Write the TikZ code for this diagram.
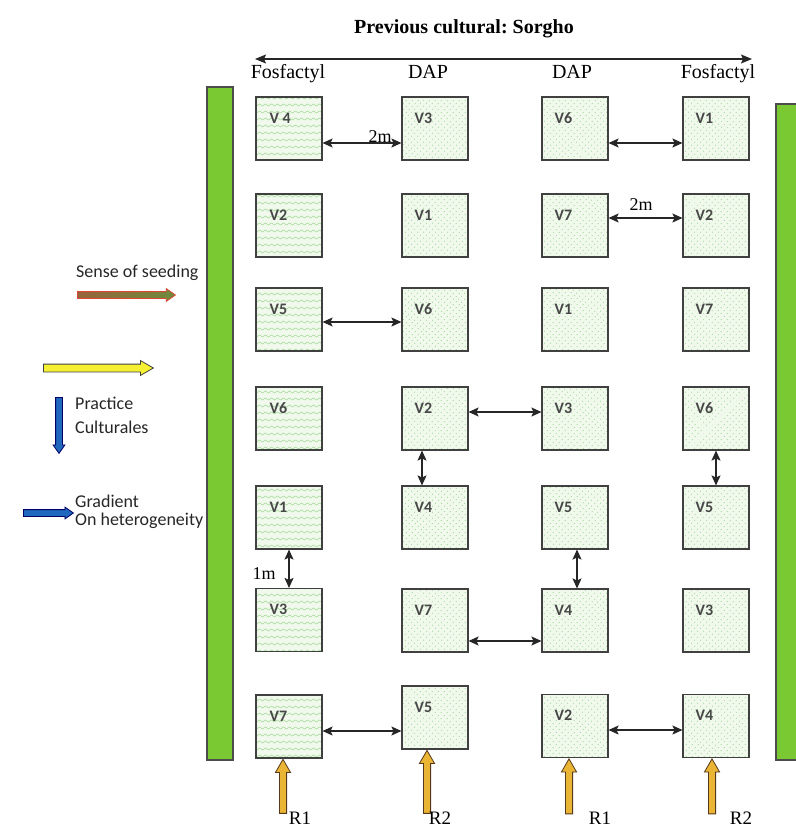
\documentclass[tikz,border=0pt]{standalone}
\usepackage{fontspec}
\setmainfont{Liberation Serif}
\newfontfamily\labfont{Carlito}
\usepackage{tikz}
\usetikzlibrary{arrows.meta, patterns, patterns.meta, shapes.arrows, positioning}
\definecolor{bargreen}{RGB}{122,200,50}
\definecolor{plotgreen}{RGB}{240,249,236}
\definecolor{dotgreen}{RGB}{150,210,140}
\definecolor{wavegreen}{RGB}{170,220,160}
\definecolor{gold}{RGB}{234,180,52}
\definecolor{arrowblue}{RGB}{32,104,190}
% wavy lines for the Fosfactyl plots
\pgfdeclarepatternformonly{wavelines}{\pgfqpoint{-1pt}{-1pt}}{\pgfqpoint{7pt}{8pt}}{\pgfqpoint{6pt}{7pt}}{%
  \pgfsetlinewidth{0.6pt}
  \pgfpathmoveto{\pgfqpoint{0pt}{3pt}}
  \pgfpathcurveto{\pgfqpoint{1.5pt}{4.3pt}}{\pgfqpoint{1.5pt}{4.3pt}}{\pgfqpoint{3pt}{3pt}}
  \pgfpathcurveto{\pgfqpoint{4.5pt}{1.7pt}}{\pgfqpoint{4.5pt}{1.7pt}}{\pgfqpoint{6pt}{3pt}}
  \pgfusepath{stroke}}
\tikzset{
        plotbox/.style={draw=black!75, line width=1.1pt, preaction={fill=plotgreen}, minimum width=66pt, minimum height=63pt, inner sep=0pt}, % one elementary plot
        fosbox/.style={plotbox, pattern=wavelines, pattern color=wavegreen},
        dapbox/.style={plotbox, pattern={Dots[angle=45, distance=4pt, radius=0.6pt]}, pattern color=dotgreen},
        vlab/.style={font=\labfont\bfseries\fontsize{16}{16}\selectfont, text=black!72, anchor=north west, inner sep=0pt},
        gaparrow/.style={{Stealth[length=10pt,width=9pt,inset=2pt]}-{Stealth[length=10pt,width=9pt,inset=2pt]}, line width=1.1pt, black!85},
        reparrow/.style={single arrow, single arrow head indent=0pt, single arrow tip angle=60, single arrow head extend=4pt, inner sep=3.2pt, fill=gold, draw=black!55!brown, line width=0.8pt, rotate=90, anchor=tip},
    }
\tikzstyle{collab}=[font=\fontsize{20}{20}\selectfont, anchor=base, inner sep=0pt]
\tikzstyle{leglab}=[font=\labfont\fontsize{18}{22}\selectfont, text=black!85, inner sep=0pt]
\tikzstyle{greenbar}=[fill=bargreen, draw=black!70, line width=1.2pt]

\begin{document}
\begin{tikzpicture}[x=1pt, y=-1pt]
    \useasboundingbox (0,0) rectangle (795,829);

    % title and fertilizers
    \node[collab, font=\bfseries\fontsize{20}{20}\selectfont] (title) at (464,34) {Previous cultural:\ Sorgho};
    \coordinate (tl) at (255,59);
    \coordinate (tr) at (752,59);
    \draw[{Stealth[length=11pt,width=9pt,inset=2pt]}-{Stealth[length=11pt,width=9pt,inset=2pt]}, line width=1.3pt, black!85] (tl) -- (tr);
    \node[collab] (fa) at (288,79) {Fosfactyl};
    \node[collab] (fb) at (428,79) {DAP};
    \node[collab] (fc) at (572,79) {DAP};
    \node[collab] (fd) at (718,79) {Fosfactyl};

    % border strips
    \draw[greenbar] (207,87) rectangle (233,760);
    \draw[greenbar] (776,104) rectangle (806,760);

    % plots
    \foreach \lab/\y [count=\r] in {V 4/128.5, V2/225.5, V5/319.5, V6/418.5, V1/517.5, V3/620, V7/726.5} {
        \node[fosbox] (a\r) at (289,\y) {};
        \node[vlab] (la\r) at ([xshift=14pt,yshift=-16pt]a\r.north west) {\lab};
    }
    \foreach \lab/\y [count=\r] in {V3/128.5, V1/225.5, V6/319.5, V2/418.5, V4/517.5, V7/620.5, V5/717.5} {
        \node[dapbox] (b\r) at (435,\y) {};
        \node[vlab] (lb\r) at ([xshift=13pt,yshift=-16pt]b\r.north west) {\lab};
    }
    \foreach \lab/\y [count=\r] in {V6/128.5, V7/225.5, V1/319.5, V3/418.5, V5/517.5, V4/620.5, V2/726} {
        \node[dapbox] (c\r) at (575,\y) {};
        \node[vlab] (lc\r) at ([xshift=13pt,yshift=-16pt]c\r.north west) {\lab};
    }
    \foreach \lab/\y [count=\r] in {V1/128.5, V2/225.5, V7/319.5, V6/418.5, V5/517.5, V3/620.5, V4/726} {
        \node[dapbox] (d\r) at (716,\y) {};
        \node[vlab] (ld\r) at ([xshift=13pt,yshift=-16pt]d\r.north west) {\lab};
    }

    % distances between plots
    \draw[gaparrow] ([yshift=-14.5pt]a1.east) -- ([yshift=-14.5pt]b1.west);
    \node[font=\fontsize{18}{18}\selectfont, anchor=base, inner sep=0pt] (m2a) at (380,143) {2m};
    \draw[gaparrow] ([yshift=-14.5pt]c1.east) -- ([yshift=-14.5pt]d1.west);
    \draw[gaparrow] ([yshift=7.5pt]c2.east) -- ([yshift=7.5pt]d2.west);
    \node[font=\fontsize{18}{18}\selectfont, anchor=base, inner sep=0pt] (m2b) at (641,210) {2m};
    \draw[gaparrow] ([yshift=-2.5pt]a3.east) -- ([yshift=-2.5pt]b3.west);
    \draw[gaparrow] ([yshift=6.5pt]b4.east) -- ([yshift=6.5pt]c4.west);
    \draw[gaparrow] ([xshift=-13pt]b4.south) -- ([xshift=-13pt]b5.north);
    \draw[gaparrow] (d4.south) -- (d5.north);
    \draw[gaparrow] (a5.south) -- (a6.north);
    \node[font=\fontsize{18}{18}\selectfont, anchor=base, inner sep=0pt] (m1) at (264,579) {1m};
    \draw[gaparrow] ([xshift=2pt]c5.south) -- ([xshift=2pt]c6.north);
    \draw[gaparrow] ([yshift=-20.5pt]b6.east) -- ([yshift=-20.5pt]c6.west);
    \coordinate (g7) at ([yshift=-4.5pt]a7.east);
    \draw[gaparrow] (g7) -- (g7 -| b7.west);
    \draw[gaparrow] ([yshift=-4pt]c7.east) -- ([yshift=-4pt]d7.west);

    % replications
    \node[reparrow, minimum height=54pt] (ra) at ([xshift=-6pt]a7.south) {};
    \node[reparrow, minimum height=63pt] (rb) at ([xshift=-8pt]b7.south) {};
    \node[reparrow, minimum height=55pt] (rc) at ([xshift=-6pt]c7.south) {};
    \node[reparrow, minimum height=55pt] (rd) at ([xshift=-4pt]d7.south) {};
    \node[collab, font=\fontsize{19}{19}\selectfont] (ta) at (300,824) {R1};
    \node[collab, font=\fontsize{19}{19}\selectfont] (tb) at (440,824) {R2};
    \node[collab, font=\fontsize{19}{19}\selectfont] (tc) at (600,824) {R1};
    \node[collab, font=\fontsize{19}{19}\selectfont] (td) at (741,824) {R2};

    % legend
    \node[leglab, anchor=base west] (seedtxt) at (76,277) {Sense of seeding};
    \node[single arrow, single arrow head indent=0pt, single arrow tip angle=70, single arrow head extend=3pt, inner sep=3pt,
          left color={rgb,255:red,150;green,100;blue,60}, right color={rgb,255:red,110;green,140;blue,60},
          draw={rgb,255:red,220;green,70;blue,50}, line width=0.8pt, minimum height=98pt, anchor=tail] (seed) at (77,295) {};
    \node[single arrow, single arrow head indent=0pt, single arrow tip angle=60, single arrow head extend=3.5pt, inner sep=3.5pt,
          fill={rgb,255:red,245;green,240;blue,50}, draw=black!75, line width=0.8pt, minimum height=110pt, anchor=tail] (yel) at (43,368) {};
    \node[single arrow, single arrow head indent=0pt, single arrow tip angle=70, single arrow head extend=2.5pt, inner sep=3pt,
          fill=arrowblue, draw=blue!40!black, line width=0.8pt, minimum height=56pt, rotate=-90, anchor=tail] (pra) at (59,397) {};
    \node[leglab, anchor=north west, align=left, font=\labfont\fontsize{18}{24}\selectfont] (pratxt) at (75,397) {Practice\\Culturales};
    \node[single arrow, single arrow head indent=0pt, single arrow tip angle=70, single arrow head extend=2.5pt, inner sep=3pt,
          fill=arrowblue, draw=blue!40!black, line width=0.8pt, minimum height=50pt, anchor=tail] (gra) at (23,513) {};
    \node[leglab, anchor=north west, align=left, font=\labfont\fontsize{18}{18}\selectfont] (gratxt) at (75,495) {Gradient\\On heterogeneity};
\end{tikzpicture}
\end{document}
